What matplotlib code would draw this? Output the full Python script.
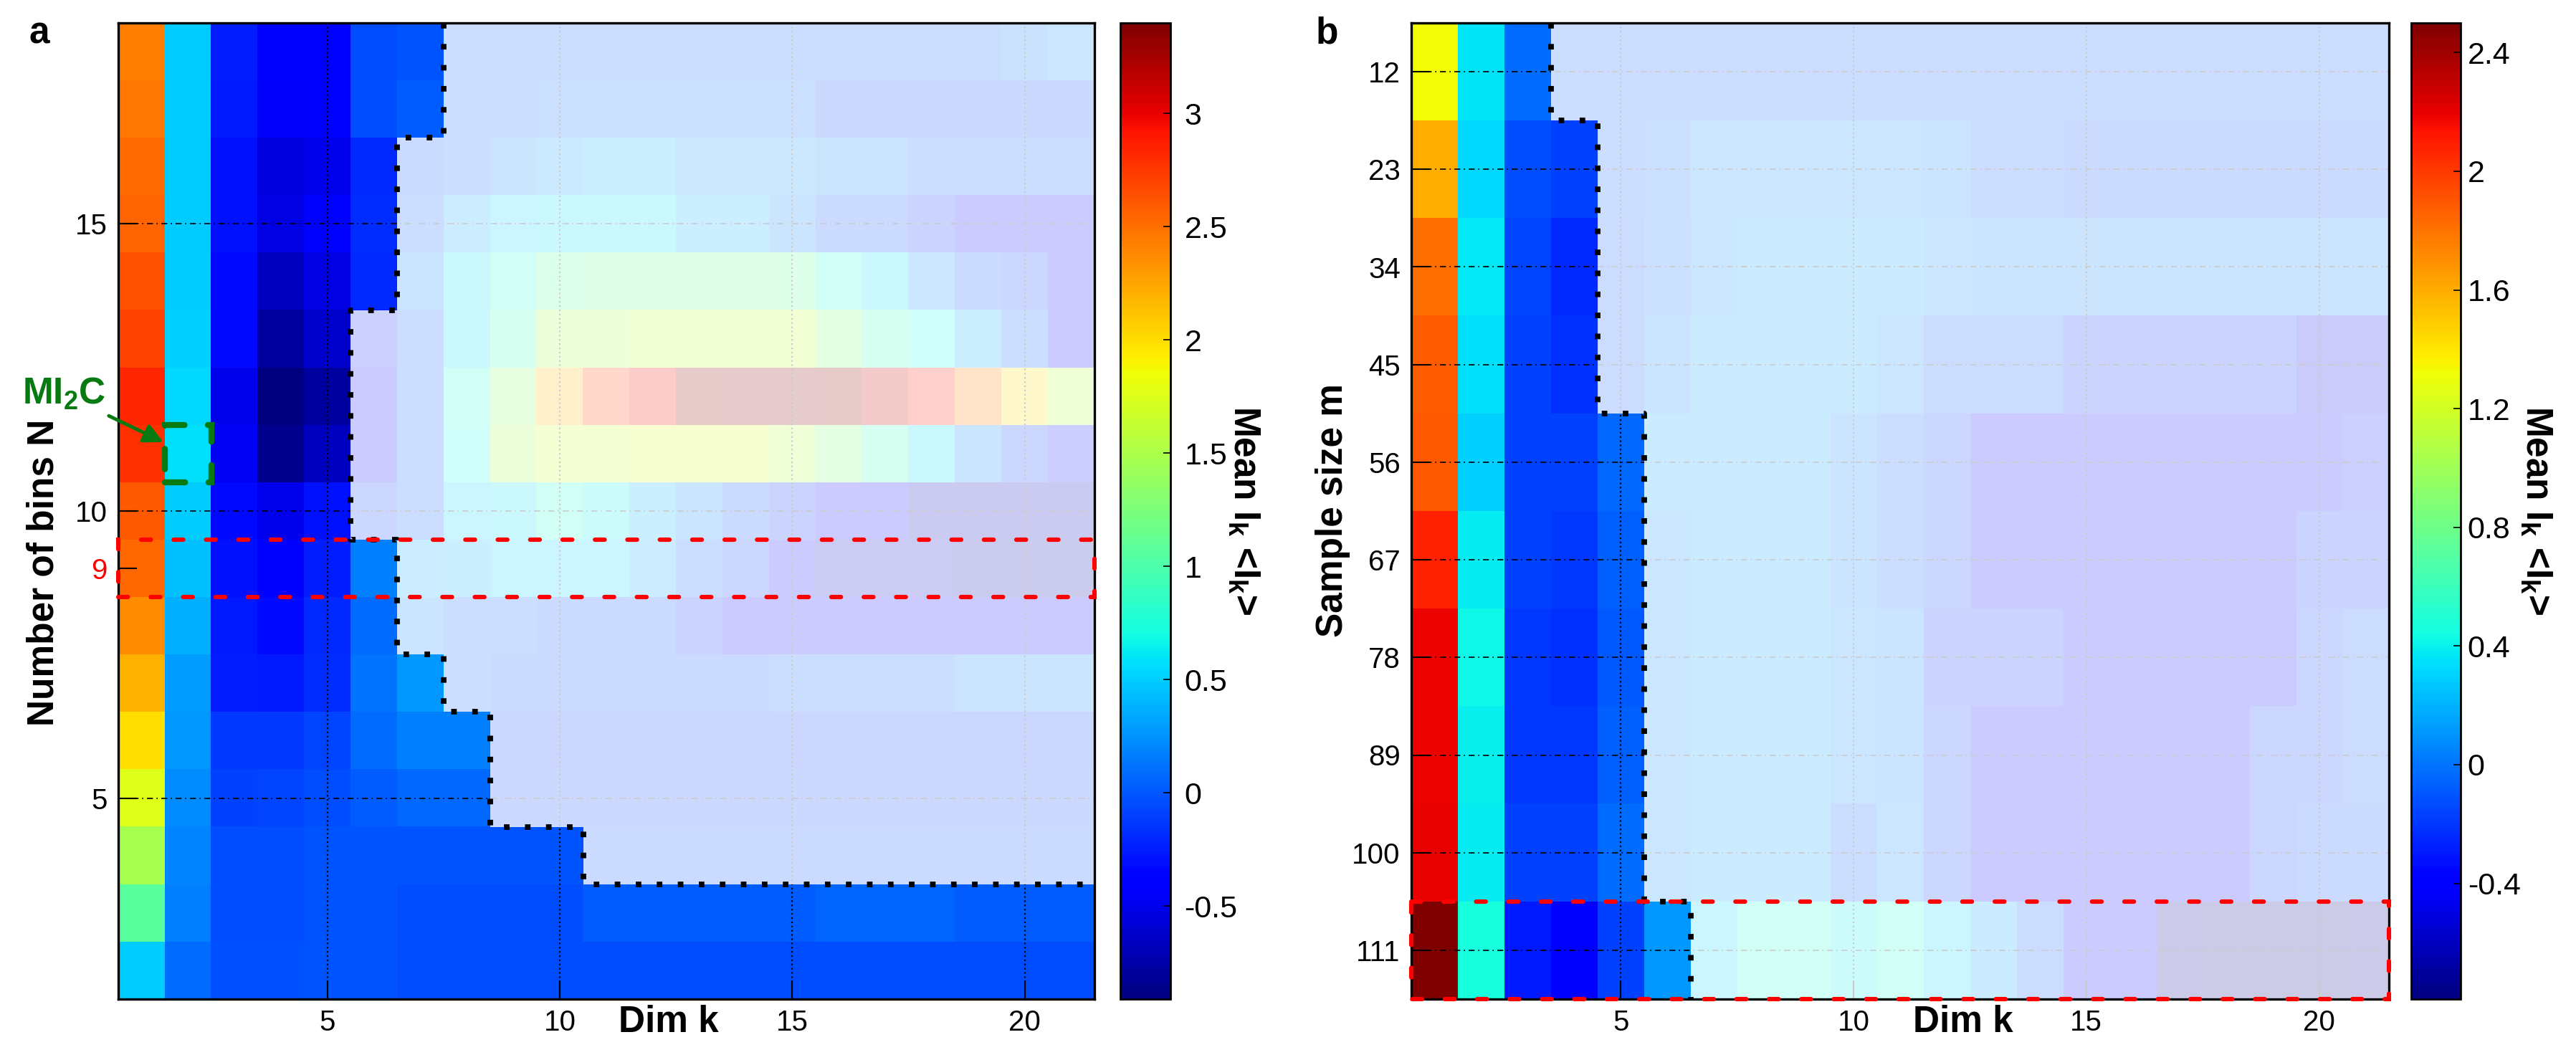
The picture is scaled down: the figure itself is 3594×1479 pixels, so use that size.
import numpy as np
import matplotlib
matplotlib.use("Agg")
import matplotlib.pyplot as plt
from matplotlib.patches import Rectangle, Polygon

plt.rcParams['font.family'] = ['Liberation Sans', 'DejaVu Sans']
plt.rcParams['mathtext.fontset'] = 'custom'
plt.rcParams['mathtext.rm'] = 'Liberation Sans'
plt.rcParams['mathtext.bf'] = 'Liberation Sans:bold'
plt.rcParams['mathtext.it'] = 'Liberation Sans:italic'

# ---- data ----
dim_k = [1, 2, 3, 4, 5, 6, 7, 8, 9, 10, 11, 12, 13, 14, 15, 16, 17, 18, 19, 20, 21]

# panel a, rows from N=18 (top) to N=2 (bottom)
bins_n = [18, 17, 16, 15, 14, 13, 12, 11, 10, 9, 8, 7, 6, 5, 4, 3, 2]
mean_a = [
    [2.43, 0.49, -0.24, -0.41, -0.41, -0.04, -0.01, 0.04, 0.04, 0.04, 0.04, 0.04, 0.04, 0.04, 0.04, 0.04, 0.04, 0.04, 0.04, 0.12, 0.21],
    [2.47, 0.49, -0.27, -0.45, -0.37, -0.04, 0.03, 0.04, 0.04, 0.06, 0.08, 0.08, 0.08, 0.08, 0.08, -0.06, -0.06, -0.06, -0.06, -0.06, -0.06],
    [2.51, 0.49, -0.30, -0.55, -0.49, -0.20, -0.02, 0.04, 0.17, 0.30, 0.38, 0.38, 0.25, 0.25, 0.25, 0.17, 0.17, 0.04, 0.04, 0.04, 0.04],
    [2.55, 0.49, -0.30, -0.53, -0.41, -0.17, 0.04, 0.34, 0.51, 0.58, 0.58, 0.58, 0.40, 0.40, 0.17, -0.02, -0.02, -0.20, -0.38, -0.38, -0.38],
    [2.63, 0.49, -0.33, -0.67, -0.53, -0.20, 0.17, 0.58, 0.77, 1.03, 1.12, 1.12, 1.12, 1.12, 1.10, 0.77, 0.58, 0.21, -0.02, -0.11, -0.41],
    [2.70, 0.51, -0.33, -0.79, -0.62, -0.26, 0.04, 0.58, 0.92, 1.49, 1.49, 1.62, 1.62, 1.62, 1.62, 1.28, 0.92, 0.71, 0.40, 0.04, -0.41],
    [2.83, 0.54, -0.49, -0.91, -0.79, -0.41, 0.04, 0.77, 1.33, 2.19, 2.73, 2.97, 3.35, 3.40, 3.40, 3.35, 3.12, 2.92, 2.43, 2.00, 1.54],
    [2.78, 0.58, -0.47, -0.85, -0.67, -0.41, 0.04, 0.71, 1.49, 1.67, 1.67, 1.75, 1.75, 1.75, 1.54, 1.28, 0.92, 0.58, 0.17, -0.11, -0.30],
    [2.60, 0.49, -0.33, -0.49, -0.30, -0.11, 0.04, 0.51, 0.58, 0.77, 0.65, 0.40, 0.17, -0.02, -0.20, -0.41, -0.41, -0.67, -0.67, -0.67, -0.67],
    [2.53, 0.44, -0.30, -0.41, -0.24, 0.17, 0.34, 0.40, 0.51, 0.51, 0.51, 0.34, 0.04, -0.11, -0.41, -0.61, -0.61, -0.61, -0.74, -0.74, -0.74],
    [2.36, 0.37, -0.27, -0.33, -0.20, 0.10, 0.17, 0.04, 0.04, -0.02, -0.02, -0.02, -0.20, -0.41, -0.41, -0.41, -0.41, -0.41, -0.41, -0.41, -0.41],
    [2.19, 0.30, -0.24, -0.27, -0.17, 0.13, 0.28, 0.04, -0.02, -0.02, -0.02, -0.02, -0.02, -0.02, 0.04, 0.04, 0.04, 0.04, 0.17, 0.17, 0.17],
    [1.99, 0.28, -0.13, -0.13, -0.08, 0.10, 0.17, 0.17, -0.11, -0.11, -0.11, -0.11, -0.11, -0.11, -0.11, -0.11, -0.11, -0.11, -0.11, -0.11, -0.11],
    [1.76, 0.23, -0.10, -0.08, -0.04, 0.03, 0.07, 0.07, -0.08, -0.08, -0.08, -0.08, -0.08, -0.08, -0.08, -0.08, -0.08, -0.08, -0.08, -0.08, -0.08],
    [1.48, 0.20, -0.05, -0.04, -0.01, -0.01, -0.01, -0.01, -0.01, -0.01, -0.02, -0.02, -0.02, -0.02, -0.02, -0.02, -0.02, -0.02, -0.02, -0.02, -0.02],
    [1.07, 0.17, -0.05, -0.04, -0.01, -0.01, -0.04, -0.04, -0.04, -0.04, 0.03, 0.03, 0.03, 0.03, 0.03, 0.05, 0.05, 0.05, 0.03, 0.03, 0.03],
    [0.49, 0.10, -0.03, -0.03, -0.01, -0.01, -0.04, -0.04, -0.04, -0.04, -0.04, -0.04, -0.04, -0.04, -0.04, -0.04, -0.04, -0.04, -0.04, -0.04, -0.04],
]
kmax_a = [7, 7, 6, 6, 6, 5, 5, 5, 5, 6, 6, 7, 8, 8, 10, 21, 21]
clim_a = (-0.91, 3.40)
cticks_a = [-0.5, 0, 0.5, 1, 1.5, 2, 2.5, 3]

# panel b, rows from m=12 (top) to m=111 (bottom)
sample_m = [12, 23, 34, 45, 56, 67, 78, 89, 100, 111]
mean_b = [
    [1.32, 0.36, -0.02, -0.07, -0.07, -0.07, -0.07, -0.07, -0.07, -0.07, -0.07, -0.07, -0.07, -0.07, -0.07, -0.07, -0.07, -0.07, -0.07, -0.07, -0.07],
    [1.59, 0.32, -0.13, -0.17, -0.07, -0.05, 0.07, 0.07, 0.07, 0.07, 0.07, 0.03, -0.07, -0.07, -0.12, -0.12, -0.12, -0.12, -0.12, -0.12, -0.12],
    [1.81, 0.37, -0.15, -0.25, -0.10, -0.02, 0.07, 0.14, 0.14, 0.14, 0.14, 0.08, 0.04, 0.04, 0.04, 0.04, 0.04, 0.04, 0.04, 0.04, 0.04],
    [1.88, 0.35, -0.17, -0.22, -0.10, 0.03, 0.16, 0.16, 0.16, 0.16, 0.07, -0.10, -0.10, -0.10, -0.25, -0.25, -0.25, -0.25, -0.25, -0.50, -0.50],
    [1.89, 0.29, -0.17, -0.17, -0.04, 0.16, 0.16, 0.16, 0.16, 0.03, -0.07, -0.18, -0.41, -0.41, -0.41, -0.41, -0.41, -0.41, -0.41, -0.41, -0.30],
    [2.08, 0.38, -0.17, -0.19, -0.06, 0.07, 0.16, 0.16, 0.16, 0.03, -0.07, -0.18, -0.41, -0.41, -0.41, -0.41, -0.41, -0.41, -0.41, -0.25, -0.25],
    [2.18, 0.43, -0.19, -0.22, -0.09, 0.07, 0.16, 0.16, 0.16, 0.07, 0.03, -0.25, -0.25, -0.25, -0.41, -0.41, -0.41, -0.41, -0.41, -0.18, -0.10],
    [2.19, 0.40, -0.19, -0.19, -0.06, 0.07, 0.16, 0.16, 0.16, 0.07, 0.03, -0.18, -0.41, -0.41, -0.41, -0.41, -0.41, -0.41, -0.18, -0.18, -0.10],
    [2.20, 0.38, -0.17, -0.17, -0.02, 0.07, 0.16, 0.16, 0.16, -0.07, 0.07, -0.18, -0.41, -0.41, -0.41, -0.41, -0.41, -0.41, -0.18, -0.12, -0.12],
    [2.50, 0.46, -0.30, -0.40, -0.17, 0.12, 0.30, 0.49, 0.49, 0.39, 0.49, 0.30, 0.16, -0.10, -0.41, -0.41, -0.72, -0.75, -0.79, -0.75, -0.72],
]
kmax_b = [3, 4, 4, 4, 5, 5, 5, 5, 5, 6]
clim_b = (-0.79, 2.50)
cticks_b = [-0.4, 0, 0.4, 0.8, 1.2, 1.6, 2, 2.4]

GREEN = '#087a12'
W, H = 3594, 1479


def fig_rect(l, t, r, b):
    return [l / W, 1 - b / H, (r - l) / W, (b - t) / H]


def row_edges(centers):
    c = np.asarray(centers, dtype=float)
    d = c[1] - c[0]
    return np.append(c - d / 2, c[-1] + d / 2)


def draw_panel(ax, cax, vals, rows, kmax, clim, cticks, ygrid, cpad):
    ncol = len(dim_k)
    edges = row_edges(rows)
    im = ax.imshow(np.array(vals), cmap='jet', vmin=clim[0], vmax=clim[1],
                   aspect='auto', interpolation='nearest', origin='upper',
                   extent=(dim_k[0] - 0.5, dim_k[-1] + 0.5, edges[-1], edges[0]), zorder=0)
    ax.set_xlim(dim_k[0] - 0.5, dim_k[-1] + 0.5)

    for t in [5, 10, 15, 20]:
        ax.axvline(t, color='k', ls=':', lw=1.6, zorder=1)
    for t in ygrid:
        ax.axhline(t, color='k', ls=(0, (5, 3, 1, 3)), lw=1.2, zorder=1)

    # stepped boundary of the valid region
    xs, ys = [], []
    for i, km in enumerate(kmax):
        x = km + 0.5
        if km >= ncol:
            xs.append(x)
            ys.append(edges[i])
            break
        xs += [x, x]
        ys += [edges[i], edges[i + 1]]
    right = dim_k[-1] + 0.5
    poly = list(zip(xs, ys)) + [(right, ys[-1]), (right, edges[0])]
    ax.add_patch(Polygon(poly, closed=True, facecolor='white', edgecolor='none',
                         alpha=0.8, zorder=2))
    ax.plot(xs, ys, color='k', lw=5.6, ls=(0, (1, 2.77)), zorder=3, clip_on=False)

    ax.set_xticks([5, 10, 15, 20])
    ax.tick_params(direction='in', length=19, width=1.5, labelsize=29, pad=11)
    ax.tick_params(axis='x', pad=10)
    for sp in ax.spines.values():
        sp.set_linewidth(2.4)

    cb = plt.colorbar(im, cax=cax, ticks=cticks)
    cb.set_ticklabels([f'{t:g}' for t in cticks])
    cb.ax.tick_params(direction='in', length=7, width=1.2, labelsize=31, pad=cpad)
    cb.outline.set_linewidth(2.0)
    return im


fig = plt.figure(figsize=(W / 100, H / 100), dpi=100)
ax_a = fig.add_axes(fig_rect(165, 32, 1527, 1394))
cax_a = fig.add_axes(fig_rect(1563, 32, 1633, 1394))
ax_b = fig.add_axes(fig_rect(1969, 32, 3333, 1394))
cax_b = fig.add_axes(fig_rect(3364, 32, 3433, 1394))

# ---- panel a ----
draw_panel(ax_a, cax_a, mean_a, bins_n, kmax_a, clim_a, cticks_a, [5, 10, 15], 14)
ax_a.set_yticks([5, 9, 10, 15])
ax_a.get_yticklabels()[1].set_color('red')
ax_a.text(0.564, -0.024, 'Dim k', transform=ax_a.transAxes, ha='center', va='center',
          fontsize=37, fontweight='bold')
ax_a.text(-0.0764, 0.437, 'Number of bins N', transform=ax_a.transAxes, rotation=90,
          ha='center', va='center', fontsize=37, fontweight='bold')
ax_a.add_patch(Rectangle((0.5, 8.5), 21, 1, fill=False, ec='red', lw=4.4,
                         ls=(0, (2.2, 5.2)), capstyle='round', clip_on=False, zorder=5))
ax_a.add_patch(Rectangle((1.5, 10.5), 1, 1, fill=False, ec=GREEN, lw=6,
                         ls=(0, (3.4, 3.9)), capstyle='round', clip_on=False, zorder=5))
ax_a.annotate(r'MI$_\mathbf{2}$C', xy=(1.47, 11.2), xytext=(-0.66, 12.03),
              textcoords='data', ha='center', va='center', fontsize=37,
              fontweight='bold', color=GREEN, annotation_clip=False, zorder=6,
              arrowprops=dict(arrowstyle='-|>', color=GREEN, lw=3.5,
                              mutation_scale=40, shrinkA=4, shrinkB=0))

# ---- panel b ----
draw_panel(ax_b, cax_b, mean_b, sample_m, kmax_b, clim_b, cticks_b, sample_m, 7)
ax_b.set_yticks(sample_m)
ax_b.text(0.5645, -0.024, 'Dim k', transform=ax_b.transAxes, ha='center', va='center',
          fontsize=37, fontweight='bold')
ax_b.text(-0.0806, 0.5007, 'Sample size m', transform=ax_b.transAxes, rotation=90,
          ha='center', va='center', fontsize=37, fontweight='bold')
ax_b.add_patch(Rectangle((0.5, 105.5), 21, 11, fill=False, ec='red', lw=4.4,
                         ls=(0, (2.2, 5.2)), capstyle='round', clip_on=False, zorder=5))

# ---- colorbar labels and panel letters ----
cb_label = r'Mean I$_\mathbf{k}$ <I$_\mathbf{k}$>'
fig.text(1735 / W, 1 - 712 / H, cb_label, rotation=270, ha='center', va='center',
         fontsize=37, fontweight='bold')
fig.text(3538 / W, 1 - 712 / H, cb_label, rotation=270, ha='center', va='center',
         fontsize=37, fontweight='bold')
fig.text(55 / W, 1 - 47 / H, 'a', ha='center', va='center', fontsize=37, fontweight='bold')
fig.text(1851 / W, 1 - 47 / H, 'b', ha='center', va='center', fontsize=37, fontweight='bold')

fig.savefig('out.png', dpi=100)
